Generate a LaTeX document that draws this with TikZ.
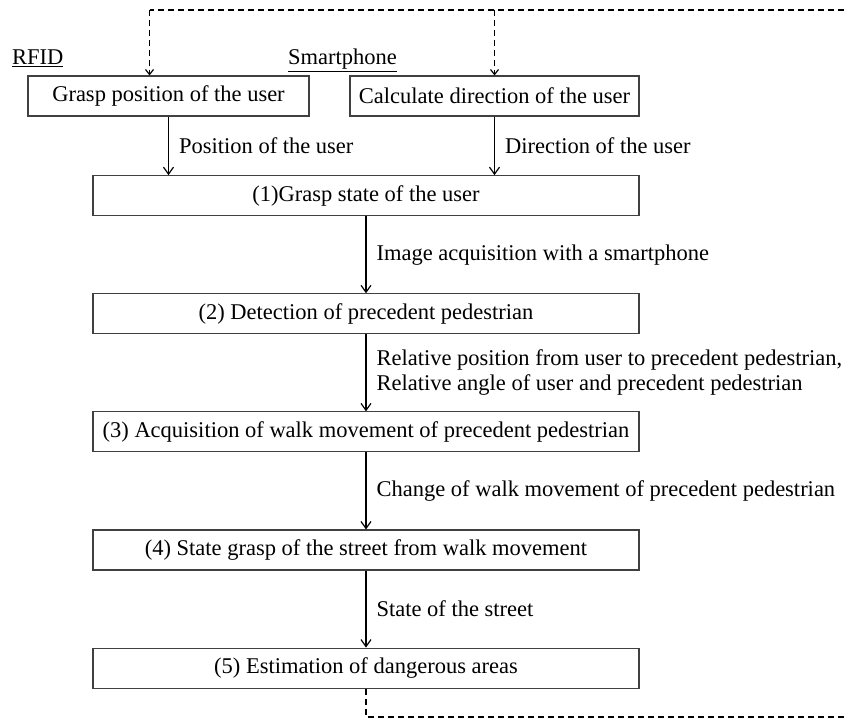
\documentclass[tikz,border=0pt]{standalone}
\usepackage{fontspec}
\setmainfont{Liberation Serif}
\usetikzlibrary{matrix,positioning,arrows.meta}

\begin{document}
\begin{tikzpicture}[x=1pt,y=1pt,font=\fontsize{22.5}{25}\selectfont,
stepbox/.style={draw=black!75,line width=1.1pt,minimum height=40pt,inner sep=0pt},
arr/.style={line width=1.2pt,-{Straight Barb[length=7pt,width=10pt]}},
fb/.style={line width=1.2pt,dash pattern=on 6pt off 4pt},
lbl/.style={right,align=left,inner sep=0pt,xshift=10pt}]
\useasboundingbox (0,0) rectangle (844,719);
\node[anchor=base west,inner sep=0pt] (rfid) at (12,654) {\underline{RFID}};
\node[anchor=base west,inner sep=0pt] (smart) at (288,654) {\underline{Smartphone}};
\node[stepbox,minimum width=281pt] (posbox) at (168.5,623) {Grasp position of the user};
\node[stepbox,minimum width=289pt] (dirbox) at (494.5,623) {Calculate direction of the user};
\matrix[matrix of nodes,row sep=77pt,inner sep=0pt,
nodes={stepbox,minimum width=546pt},anchor=north] (m) at (366,544) {
(1)Grasp state of the user\\
(2) Detection of precedent pedestrian\\
(3) Acquisition of walk movement of precedent pedestrian\\
(4) State grasp of the street from walk movement\\
(5) Estimation of dangerous areas\\
};
\draw[arr] (posbox.south) -- (posbox.south |- m-1-1.north) node[midway,lbl]{Position of the user};
\draw[arr] (dirbox.south) -- (dirbox.south |- m-1-1.north) node[midway,lbl]{Direction of the user};
\foreach \X/\L [count=\Y from 2] in {1/{Image acquisition with a smartphone},
2/{Relative position from user to precedent pedestrian,\\Relative angle of user and precedent pedestrian},
3/{Change of walk movement of precedent pedestrian},4/{State of the street}}
{\draw[arr] (m-\X-1) -- (m-\Y-1) node[midway,lbl]{\L};}
% feedback loop
\coordinate (topend) at (844,709);
\coordinate (botend) at (844,2);
\coordinate (posin) at ([xshift=-19pt]posbox.north);
\draw[fb] (topend) -- (topend -| posin);
\draw[fb,-{Straight Barb[length=5pt,width=8pt]}] (posin |- topend) -- (posin);
\draw[fb,-{Straight Barb[length=5pt,width=8pt]}] (dirbox.north |- topend) -- (dirbox.north);
\draw[fb] (m-5-1.south) |- (botend);
\end{tikzpicture}
\end{document}
